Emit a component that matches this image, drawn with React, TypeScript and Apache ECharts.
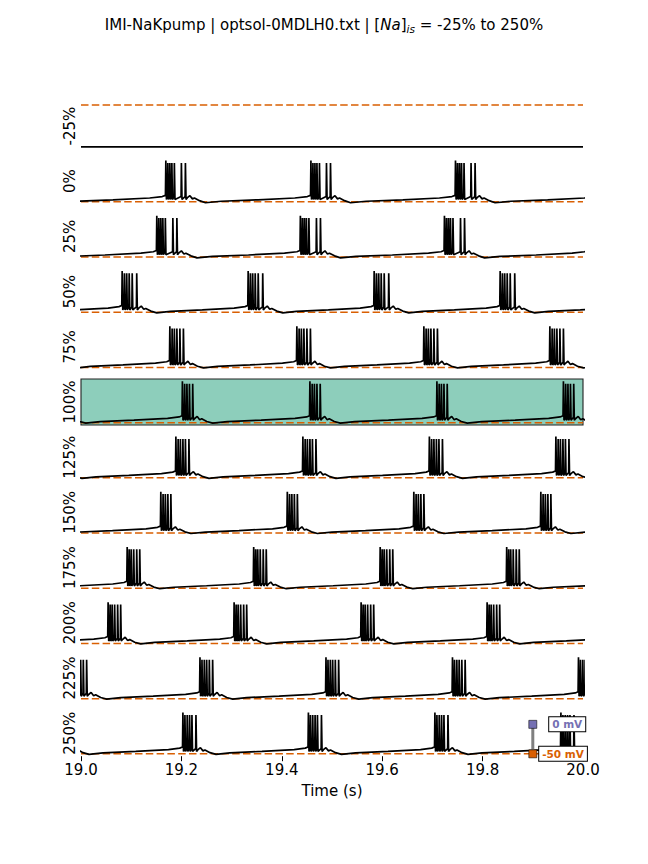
import React, { useEffect, useRef } from "react";
import * as echarts from "echarts";

// ---------- data ----------
const panelLabels = ["-25%", "0%", "25%", "50%", "75%", "100%", "125%", "150%", "175%", "200%", "225%", "250%"];

// first-spike time of every burst (s), including the ones just outside 19–20 s
const burstOnsets: number[][] = [
  [],
  [18.880, 19.169, 19.458, 19.746, 20.035],
  [18.865, 19.151, 19.437, 19.724, 20.010],
  [18.831, 19.082, 19.333, 19.584, 19.835, 20.086],
  [18.924, 19.177, 19.430, 19.683, 19.934, 20.187],
  [18.949, 19.202, 19.456, 19.709, 19.961, 20.214],
  [18.936, 19.189, 19.442, 19.694, 19.946, 20.199],
  [18.907, 19.159, 19.411, 19.663, 19.916, 20.168],
  [18.840, 19.092, 19.344, 19.596, 19.848, 20.100],
  [18.803, 19.054, 19.305, 19.558, 19.809, 20.060],
  [18.986, 19.237, 19.488, 19.740, 19.991, 20.242],
  [18.950, 19.203, 19.453, 19.705, 19.956, 20.208],
];

// spike times inside a burst, ms after the first spike
const spikeOffsetsMs: number[][] = [
  [],
  [0, 4, 8, 12, 17, 31, 39],
  [0, 4, 8, 12, 17, 32, 40],
  [0, 4.5, 9, 14, 20, 29],
  [0, 4.5, 9, 14, 20, 27],
  [0, 4.5, 9, 14, 20.5],
  [0, 4.5, 9, 14, 19, 26],
  [0, 4.5, 9, 14, 20],
  [0, 4, 8, 13, 19, 25],
  [0, 4, 8, 13, 19, 25],
  [0, 4, 8.6, 13.3, 18.6, 25.2],
  [0, 4, 8.6, 13.3, 18, 26],
];

// post-burst minimum (mV) per panel
const panelMinV = [-60, -51.5, -51.5, -51, -50.8, -50.8, -50.8, -50.8, -50.8, -50.8, -50.8, -50.8];
const flatV = -60; // silent trace of the -25% panel
const refV = -50; // dashed reference line
const peakFirstV = 20;
const peakOtherV = 16;
const troughV = -46;
const interRiseV = -41;
// slow ramp between bursts: fraction of the interval, mV above the minimum
const rampFrac = [0, 0.15, 0.5, 0.85, 0.97, 1];
const rampRise = [0, 2.5, 5, 8, 10.5, 12.5];
// after-burst wiggles: ms after the last spike, mV
const postMs = [1.2, 4, 9, 14, 18, 28, 40];
const postV = [-46, -43, -39.5, -45, -43.5, -48, NaN];

const scaleBarT = 19.9;
const scaleBarV = [0, -50];
const scaleBarLabels = ["0 mV", "-50 mV"];

// ---------- helpers ----------
function buildTrace(p: number): [number, number][] {
  if (p === 0) return [[19, flatV], [20, flatV]];
  const onsets = burstOnsets[p];
  const offs = spikeOffsetsMs[p];
  const vMin = panelMinV[p];
  const pts: [number, number][] = [];
  let prevMin: number | null = null;
  onsets.forEach((t0) => {
    const end = t0 - 0.0008;
    if (prevMin !== null) {
      const pm = prevMin;
      rampFrac.forEach((f, k) => pts.push([pm + f * (end - pm), vMin + rampRise[k]]));
    } else {
      pts.push([end, vMin + rampRise[rampRise.length - 1]]);
    }
    const spikes = offs.map((o) => t0 + o / 1000);
    spikes.forEach((ts, k) => {
      if (k > 0) pts.push([ts - 0.0006, interRiseV]);
      pts.push([ts, k === 0 ? peakFirstV : peakOtherV]);
      pts.push([ts + 0.0012, troughV]);
    });
    const last = spikes[spikes.length - 1];
    postMs.forEach((m, k) => {
      if (k === 0) return;
      pts.push([last + m / 1000, k === postMs.length - 1 ? vMin : postV[k]]);
    });
    prevMin = last + postMs[postMs.length - 1] / 1000;
  });
  return pts;
}

const FONT = "DejaVu Sans";
const GRID_TOP = 103;
const GRID_STEP = 55.2;
const GRID_H = 46;
const LABEL_SIZE = 15;

export default function App() {
  const ref = useRef<HTMLDivElement>(null);
  useEffect(() => {
    if (!ref.current) return;
    const chart = echarts.init(ref.current, undefined, { renderer: "svg" });
    const n = panelLabels.length;
    const grids: any[] = [];
    const xAxes: any[] = [];
    const yAxes: any[] = [];
    const series: any[] = [];
    for (let i = 0; i < n; i++) {
      const highlight = panelLabels[i] === "100%";
      grids.push({
        left: 81,
        right: 65,
        top: GRID_TOP + GRID_STEP * i,
        height: GRID_H,
        show: highlight,
        backgroundColor: highlight ? "rgba(27,158,119,0.5)" : "transparent",
        borderColor: "#222",
        borderWidth: highlight ? 1.1 : 0,
      });
      const isBottom = i === n - 1;
      xAxes.push({
        type: "value",
        gridIndex: i,
        min: 19,
        max: 20,
        interval: 0.2,
        show: isBottom,
        axisLine: { show: false, onZero: false },
        splitLine: { show: false },
        axisTick: { show: isBottom, length: 5, lineStyle: { color: "#000", width: 1 } },
        axisLabel: {
          show: isBottom,
          margin: 6,
          fontSize: LABEL_SIZE,
          color: "#000",
          fontFamily: FONT,
          formatter: (v: number) => v.toFixed(1),
        },
        name: isBottom ? "Time (s)" : "",
        nameLocation: "middle",
        nameGap: 27,
        nameTextStyle: { fontSize: LABEL_SIZE, color: "#000", fontFamily: FONT },
      });
      yAxes.push({
        type: "value",
        gridIndex: i,
        min: i === 0 ? -60.5 : -54,
        max: i === 0 ? -49.5 : 24,
        axisLine: { show: false, onZero: false },
        axisTick: { show: false },
        axisLabel: { show: false },
        splitLine: { show: false },
        name: panelLabels[i],
        nameLocation: "middle",
        nameRotate: 90,
        nameGap: 4,
        nameTextStyle: { fontSize: LABEL_SIZE, color: "#000", fontFamily: FONT },
      });
      series.push({
        type: "line",
        xAxisIndex: i,
        yAxisIndex: i,
        data: buildTrace(i),
        showSymbol: false,
        symbol: "none",
        clip: true,
        lineStyle: { color: "#000", width: 1.7 },
        z: 3,
      });
      series.push({
        type: "line",
        xAxisIndex: i,
        yAxisIndex: i,
        data: [[19, refV], [20, refV]],
        symbol: "none",
        lineStyle: { color: "#d95f02", width: 1.5, type: [7.5, 3.3] },
        z: 2,
      });
    }
    const last = n - 1;
    series.push({
      type: "line",
      xAxisIndex: last,
      yAxisIndex: last,
      data: scaleBarV.map((v) => [scaleBarT, v]),
      symbol: "none",
      lineStyle: { color: "#808080", width: 3 },
      z: 5,
    });
    const barColors = ["#7570b3", "#d95f02"];
    const labelDist = [12, 2];
    series.push({
      type: "scatter",
      xAxisIndex: last,
      yAxisIndex: last,
      symbol: "rect",
      symbolSize: 8,
      z: 6,
      itemStyle: { opacity: 1 },
      data: scaleBarV.map((v, k) => ({
        value: [scaleBarT, v],
        itemStyle: { color: barColors[k], borderColor: "rgba(0,0,0,0.7)", borderWidth: 0.8, opacity: 1 },
        label: {
          show: true,
          position: "right",
          distance: labelDist[k],
          formatter: scaleBarLabels[k],
          color: barColors[k],
          opacity: 1,
          fontWeight: "bold",
          fontSize: 10.5,
          fontFamily: FONT,
          backgroundColor: "#fff",
          borderColor: "#000",
          borderWidth: 1,
          padding: [2, 3, 1, 3],
        },
      })),
    });

    chart.setOption({
      animation: false,
      backgroundColor: "#fff",
      textStyle: { fontFamily: FONT },
      title: {
        left: "center",
        top: 16,
        padding: 0,
        text: "IMI-NaKpump | optsol-0MDLH0.txt | [{it|Na}]{sub|is} = -25% to 250%",
        textStyle: {
          fontSize: 15,
          fontWeight: "normal",
          color: "#000",
          fontFamily: FONT,
          rich: {
            it: { fontSize: 15, fontStyle: "italic", color: "#000", fontFamily: FONT },
            sub: { fontSize: 10.5, fontStyle: "italic", color: "#000", fontFamily: FONT, padding: [7, 0, 0, 0] },
          },
        },
      },
      grid: grids,
      xAxis: xAxes,
      yAxis: yAxes,
      series,
    });
    return () => chart.dispose();
  }, []);
  return (
    <div
      ref={ref}
      style={{ position: "fixed", left: 0, top: 0, width: 648, height: 864, background: "#fff" }}
    />
  );
}
